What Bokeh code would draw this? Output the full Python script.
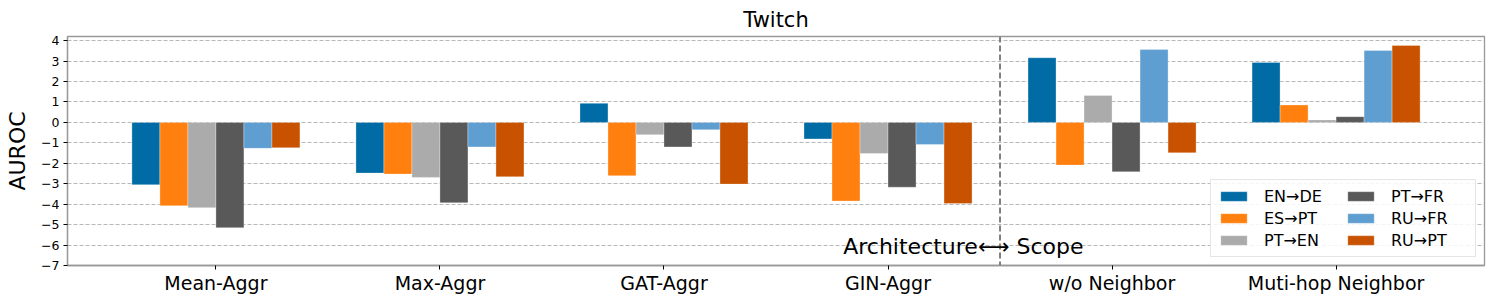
import numpy as np
from bokeh.plotting import figure
from bokeh.models import ColumnDataSource, FixedTicker, Legend, LegendItem, Span, Label, Range1d
from bokeh.transform import dodge
from bokeh.embed import file_html
from bokeh.resources import INLINE

# ---- data ----
categories = ["Mean-Aggr", "Max-Aggr", "GAT-Aggr", "GIN-Aggr", "w/o Neighbor", "Muti-hop Neighbor"]
series_names = ["EN→DE", "ES→PT", "PT→EN", "PT→FR", "RU→FR", "RU→PT"]
en_de = [-3.05, -2.48, 0.93, -0.81, 3.16, 2.93]
es_pt = [-4.08, -2.53, -2.61, -3.85, -2.09, 0.85]
pt_en = [-4.17, -2.69, -0.60, -1.52, 1.32, 0.12]
pt_fr = [-5.15, -3.93, -1.20, -3.17, -2.42, 0.28]
ru_fr = [-1.27, -1.20, -0.36, -1.08, 3.56, 3.51]
ru_pt = [-1.24, -2.66, -3.02, -3.97, -1.49, 3.76]
y_ticks = [-7, -6, -5, -4, -3, -2, -1, 0, 1, 2, 3, 4]

series_values = [en_de, es_pt, pt_en, pt_fr, ru_fr, ru_pt]
colors = ["#006BA4", "#FF800E", "#ABABAB", "#595959", "#5F9ED1", "#C85200"]
FONT = "DejaVu Sans"
BAR_W = 0.125

src = ColumnDataSource(dict(idx=list(range(len(categories))),
                            **{f"s{i}": v for i, v in enumerate(series_values)}))

p = figure(width=1495, height=305, output_backend="svg", toolbar_location=None,
           x_range=Range1d(-0.6625, 5.6625), y_range=Range1d(-7, 4.2),
           min_border_left=67, min_border_right=11, min_border_top=36, min_border_bottom=40)
p.background_fill_color = "white"
p.border_fill_color = "white"
p.outline_line_color = "#999999"
p.outline_line_width = 1.3

p.title.text = "Twitch"
p.title.align = "center"
p.title.text_font = FONT
p.title.text_font_size = "21px"
p.title.text_font_style = "normal"
p.title.text_color = "black"
p.title.standoff = 9

renderers = []
for i, name in enumerate(series_names):
    off = (i - (len(series_names) - 1) / 2) * BAR_W
    r = p.vbar(x=dodge("idx", off, range=p.x_range), top=f"s{i}", bottom=0, width=BAR_W,
               source=src, fill_color=colors[i], line_color="white", line_width=0.6, line_alpha=0.5)
    renderers.append(r)

# axes
p.xaxis.ticker = FixedTicker(ticks=list(range(len(categories))))
p.xaxis.major_label_overrides = {i: c for i, c in enumerate(categories)}
p.yaxis.ticker = FixedTicker(ticks=y_ticks)
p.yaxis.major_label_overrides = {t: (("−" + str(abs(t))) if t < 0 else str(t)) for t in y_ticks}
for ax in (p.xaxis, p.yaxis):
    ax.axis_line_color = "#999999"
    ax.axis_line_width = 1.3
    ax.major_tick_line_color = "black"
    ax.major_tick_out = 4
    ax.major_tick_in = 0
    ax.minor_tick_line_color = None
    ax.major_label_text_font = FONT
    ax.major_label_text_color = "black"
p.xaxis.major_label_text_font_size = "19px"
p.xaxis.major_label_standoff = 2
p.yaxis.major_label_text_font_size = "12.5px"
p.yaxis.major_label_standoff = 4
p.yaxis.axis_label = "AUROC"
p.yaxis.axis_label_text_font = FONT
p.yaxis.axis_label_text_font_size = "22px"
p.yaxis.axis_label_text_font_style = "normal"
p.yaxis.axis_label_text_color = "black"
p.yaxis.axis_label_standoff = 8

p.xgrid.visible = False
p.ygrid.ticker = FixedTicker(ticks=y_ticks)
p.ygrid.grid_line_color = "#b8b8b8"
p.ygrid.grid_line_dash = "4 2"
p.ygrid.grid_line_width = 1

# divider and annotation
p.add_layout(Span(location=3.5, dimension="height", line_color="#7f7f7f",
                  line_dash="6 3", line_width=2))
p.add_layout(Label(x=2.80, y=-6.07, text="Architecture⟷ Scope", text_font=FONT,
                   text_font_size="22px", text_baseline="alphabetic", text_align="left",
                   text_color="black"))

legend = Legend(items=[LegendItem(label=n, renderers=[r]) for n, r in zip(series_names, renderers)],
                ncols=2, location="bottom_right", margin=8, padding=6, spacing=2,
                glyph_width=33, glyph_height=12, label_standoff=14, label_height=20,
                label_width=78,
                label_text_font=FONT, label_text_font_size="16px", label_text_color="black",
                border_line_color="#cccccc", border_line_width=1,
                background_fill_alpha=0.85)
p.add_layout(legend)

open("out.html", "w").write(file_html(p, INLINE))
